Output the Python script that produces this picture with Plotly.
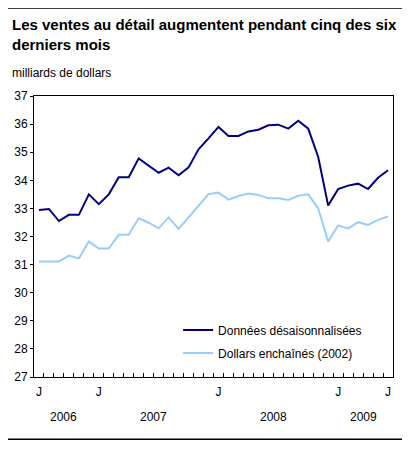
import plotly.graph_objects as go

months = ["2006-07","2006-08","2006-09","2006-10","2006-11","2006-12",
          "2007-01","2007-02","2007-03","2007-04","2007-05","2007-06",
          "2007-07","2007-08","2007-09","2007-10","2007-11","2007-12",
          "2008-01","2008-02","2008-03","2008-04","2008-05","2008-06",
          "2008-07","2008-08","2008-09","2008-10","2008-11","2008-12",
          "2009-01","2009-02","2009-03","2009-04","2009-05","2009-06"]

seasonally_adjusted = [32.94, 32.98, 32.55, 32.77, 32.77, 33.50,
                       33.15, 33.50, 34.11, 34.11, 34.78, 34.54,
                       34.27, 34.45, 34.18, 34.46, 35.10, 35.49,
                       35.90, 35.58, 35.58, 35.74, 35.80, 35.96,
                       35.98, 35.84, 36.12, 35.84, 34.83, 33.10,
                       33.69, 33.81, 33.88, 33.69, 34.09, 34.36]

chained_2002 = [31.11, 31.11, 31.11, 31.32, 31.22, 31.82,
                31.57, 31.57, 32.06, 32.06, 32.65, 32.49,
                32.29, 32.68, 32.27, 32.68, 33.10, 33.51,
                33.56, 33.31, 33.44, 33.53, 33.48, 33.36,
                33.36, 33.30, 33.45, 33.50, 33.00, 31.82,
                32.39, 32.29, 32.51, 32.41, 32.59, 32.71]

series_names = ["Données désaisonnalisées", "Dollars enchaînés (2002)"]
month_labels = {"2006-07": "J", "2007-01": "J", "2008-01": "J", "2009-01": "J", "2009-06": "J"}
years = ["2006", "2007", "2008", "2009"]
y_ticks = list(range(27, 38))

title = "Les ventes au détail augmentent pendant cinq des six<br>derniers mois"
unit_label = "milliards de dollars"

idx = list(range(len(months)))
font_family = "Liberation Sans, Arial, sans-serif"

# page body has an 8px margin; work in window pixels and shift
OFF = 8
WIN_W, WIN_H = 410, 449
W, H = WIN_W - OFF, WIN_H - OFF
plot_left, plot_right, plot_top, plot_bottom = 33.5, 393.5, 95.5, 377.5
L = plot_left - OFF
R = W - (plot_right - OFF)
T = plot_top - OFF
B = H - (plot_bottom - OFF)
pw, ph = plot_right - plot_left, plot_bottom - plot_top

def px_x(p):
    return (p - plot_left) / pw

def px_y(p):
    return (plot_bottom - p) / ph

fig = go.Figure()
fig.add_trace(go.Scatter(x=idx, y=seasonally_adjusted, mode="lines", name=series_names[0],
                         line=dict(color="#000080", width=2), legendgroup="a"))
fig.add_trace(go.Scatter(x=idx, y=chained_2002, mode="lines", name=series_names[1],
                         line=dict(color="#99ccff", width=2), legendgroup="b"))

year_centres = []
for yr in years:
    ids = [i for i, m in enumerate(months) if m.startswith(yr)]
    year_centres.append((ids[0] + ids[-1]) / 2)

tick_positions = [i for i, m in enumerate(months) if m in month_labels]
tick_text = [month_labels[months[i]] for i in tick_positions]

fig.update_layout(
    width=W, height=H,
    margin=dict(l=L, r=R, t=T, b=B, autoexpand=False),
    paper_bgcolor="white", plot_bgcolor="white",
    font=dict(family=font_family, size=12, color="black"),
    showlegend=True,
    legend=dict(x=px_x(178), y=px_y(368), xanchor="left", yanchor="bottom",
                bgcolor="rgba(0,0,0,0)", font=dict(size=12),
                tracegroupgap=4, traceorder="grouped"),
    xaxis=dict(range=[-0.5, len(months) - 0.5], showgrid=False, zeroline=False,
               showline=True, mirror=True, linecolor="black", linewidth=1,
               tickvals=tick_positions, ticktext=tick_text, ticks="",
               ticklabelstandoff=4,
               tickfont=dict(size=12),
               minor=dict(tickvals=[i + 0.5 for i in range(len(months) - 1)],
                          ticks="inside", ticklen=4, tickcolor="black", tickwidth=1,
                          showgrid=False)),
    yaxis=dict(range=[27, 37], tickvals=y_ticks, showgrid=False, zeroline=False,
               showline=True, mirror=True, linecolor="black", linewidth=1,
               ticks="outside", ticklen=3, tickcolor="black", tickfont=dict(size=12)),
)

annotations = [
    dict(text="<b>" + title + "</b>", xref="paper", yref="paper", x=px_x(9), y=px_y(13),
         xanchor="left", yanchor="top", align="left", showarrow=False,
         font=dict(size=15, family=font_family)),
    dict(text=unit_label, xref="paper", yref="paper", x=px_x(9), y=px_y(72),
         xanchor="left", yanchor="middle", showarrow=False, font=dict(size=12)),
]
for yr, c in zip(years, year_centres):
    annotations.append(dict(text=yr, xref="x", yref="paper", x=c, y=px_y(418),
                            xanchor="center", yanchor="middle", showarrow=False,
                            font=dict(size=12)))
fig.update_layout(annotations=annotations)

fig.add_shape(type="line", xref="paper", yref="paper", x0=px_x(3), x1=px_x(406),
              y0=px_y(7), y1=px_y(7), line=dict(color="black", width=2))
fig.add_shape(type="line", xref="paper", yref="paper", x0=px_x(3), x1=px_x(406),
              y0=px_y(440), y1=px_y(440), line=dict(color="black", width=1.5))

fig.write_html("out.html")
